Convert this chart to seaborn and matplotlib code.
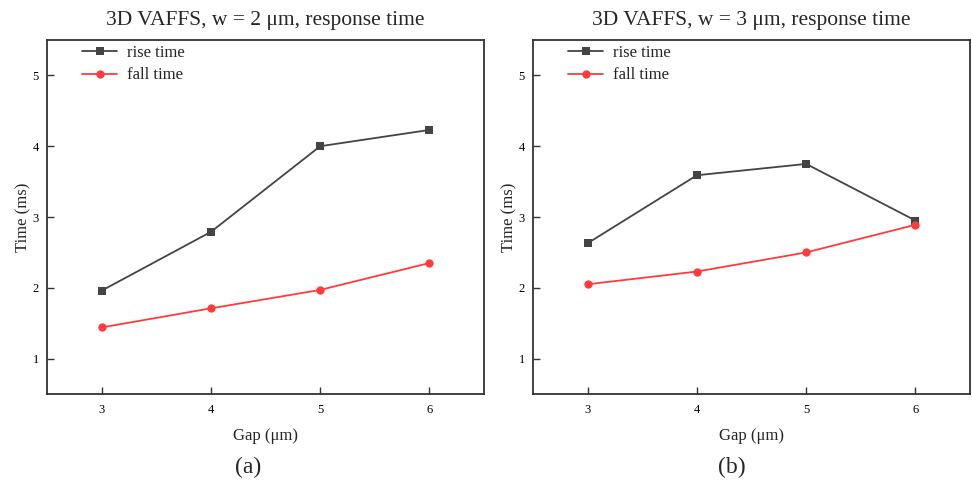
import numpy as np
import pandas as pd
import matplotlib
matplotlib.use("Agg")
import matplotlib.pyplot as plt
import seaborn as sns

# Gap widths (µm)
gap = [3, 4, 5, 6]

# w = 2 µm
rise_w2 = [1.96, 2.79, 4.00, 4.23]
fall_w2 = [1.44, 1.71, 1.97, 2.35]

# w = 3 µm
rise_w3 = [2.63, 3.59, 3.75, 2.95]
fall_w3 = [2.05, 2.23, 2.50, 2.89]

titles = ["3D VAFFS, w = 2 \u03bcm, response time",
          "3D VAFFS, w = 3 \u03bcm, response time"]
panel_tags = ["(a)", "(b)"]
series_names = ["rise time", "fall time"]
y_ticks = [1, 2, 3, 4, 5]
x_ticks = [3, 4, 5, 6]

sns.set_theme(style="ticks")
plt.rcParams["font.family"] = ["Liberation Serif", "DejaVu Serif"]

colors = {"rise time": "#444444", "fall time": "#ff3b3b"}
markers = {"rise time": "s", "fall time": "o"}

fig = plt.figure(figsize=(9.72, 4.88), dpi=100)
axes_pos = [[0.0484, 0.1926, 0.4496, 0.7254],
            [0.5484, 0.1926, 0.4496, 0.7254]]
tag_x = [248 / 972, 732 / 972]

datasets = [(rise_w2, fall_w2), (rise_w3, fall_w3)]
for i, (rise, fall) in enumerate(datasets):
    ax = fig.add_axes(axes_pos[i])
    df = pd.DataFrame({
        "Gap": gap * 2,
        "Time": rise + fall,
        "series": [series_names[0]] * len(gap) + [series_names[1]] * len(gap),
    })
    sns.lineplot(data=df, x="Gap", y="Time", hue="series", style="series",
                 palette=colors, markers=markers, dashes=False,
                 markersize=6, linewidth=1.3, markeredgewidth=0,
                 ax=ax)
    ax.set_xlim(2.5, 6.5)
    ax.set_ylim(0.5, 5.5)
    ax.set_xticks(x_ticks)
    ax.set_yticks(y_ticks)
    ax.tick_params(direction="in", length=5, width=1.0, labelsize=9,
                   colors="#333333", labelcolor="black")
    ax.tick_params(axis="x", pad=7)
    ax.tick_params(axis="y", pad=6)
    for s in ax.spines.values():
        s.set_visible(True)
        s.set_linewidth(1.3)
        s.set_color("#333333")
    ax.set_xlabel("Gap (\u03bcm)", fontsize=12, labelpad=9)
    ax.set_ylabel("Time (ms)", fontsize=12, labelpad=1)
    ax.set_title(titles[i], fontsize=15.5, pad=11)
    ax.legend(loc="upper left", frameon=False, fontsize=12,
              handlelength=2.1, handletextpad=0.6, labelspacing=0.38,
              borderaxespad=0.2, bbox_to_anchor=(0.058, 1.014))
    fig.text(tag_x[i], 1 - 467 / 488, panel_tags[i],
             ha="center", va="center", fontsize=17)

fig.savefig("out.png", dpi=100, facecolor="white")
